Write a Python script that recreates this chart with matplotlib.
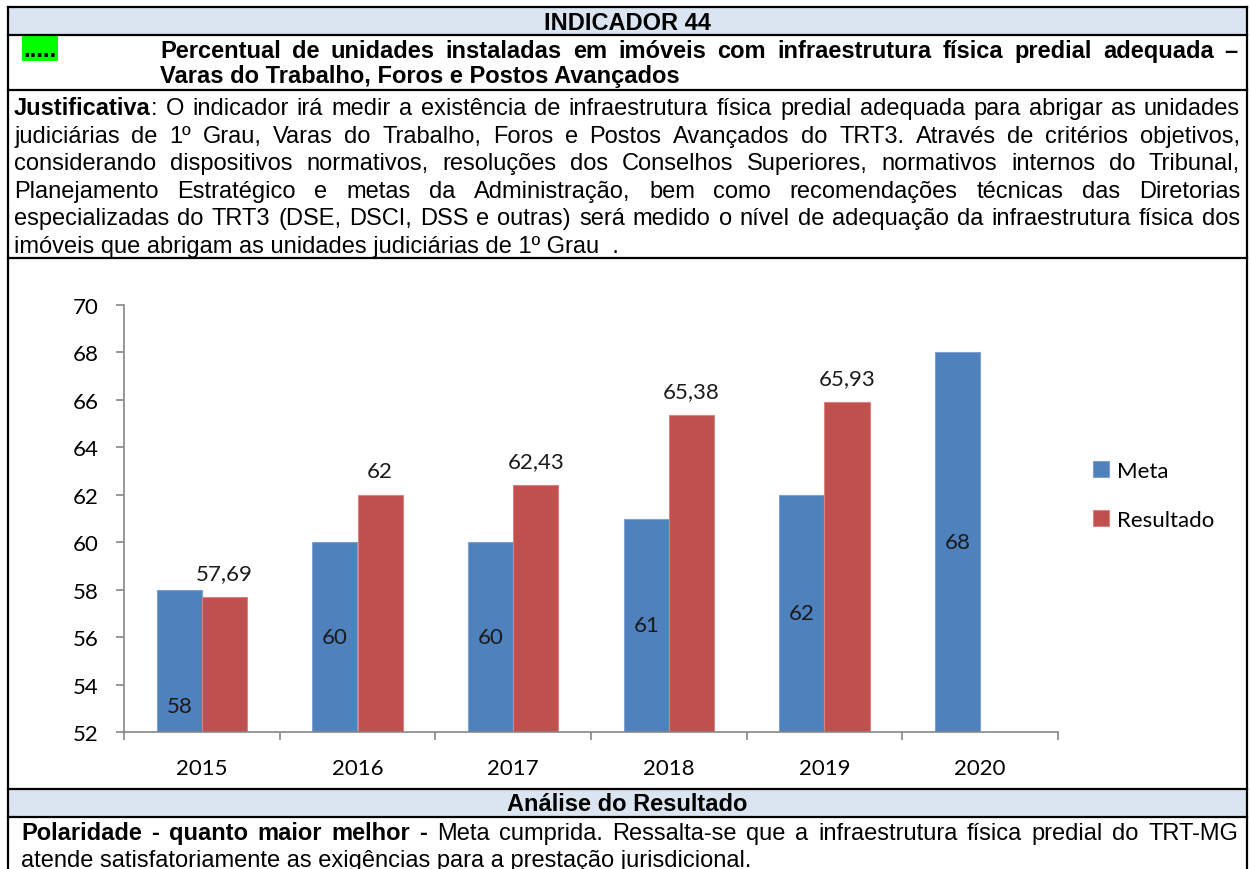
import matplotlib
matplotlib.use("Agg")
import matplotlib.pyplot as plt
from matplotlib.font_manager import FontProperties
from matplotlib.patches import Rectangle
from matplotlib.lines import Line2D

# dados do grafico
anos = ["2015", "2016", "2017", "2018", "2019", "2020"]
meta = [58, 60, 60, 61, 62, 68]
resultado = [57.69, 62, 62.43, 65.38, 65.93]
rotulos_resultado = ["57,69", "62", "62,43", "65,38", "65,93"]
y_ticks = list(range(52, 71, 2))

# textos da tabela
titulo = "INDICADOR 44"
marcador = "....."
nome_indicador = [
    "Percentual de unidades instaladas em imóveis com infraestrutura física predial adequada –",
    "Varas do Trabalho, Foros e Postos Avançados",
]
justificativa = [
    [("Justificativa", True), (": O indicador irá medir a existência de infraestrutura física predial adequada para abrigar as unidades", False)],
    [("judiciárias de 1º Grau, Varas do Trabalho, Foros e Postos Avançados do TRT3. Através de critérios objetivos,", False)],
    [("considerando dispositivos normativos, resoluções dos Conselhos Superiores, normativos internos do Tribunal,", False)],
    [("Planejamento Estratégico e metas da Administração, bem como recomendações técnicas das Diretorias", False)],
    [("especializadas do TRT3 (DSE, DSCI, DSS e outras) será medido o nível de adequação da infraestrutura física dos", False)],
    [("imóveis que abrigam as unidades judiciárias de 1º Grau  .", False)],
]
analise_titulo = "Análise do Resultado"
analise = [
    [("Polaridade - quanto maior melhor -", True), (" Meta cumprida. Ressalta-se que a infraestrutura física predial do TRT-MG", False)],
    [("atende satisfatoriamente as exigências para a prestação jurisdicional.", False)],
]

W, H = 1251, 870
fig = plt.figure(figsize=(W / 100, H / 100), dpi=100)
renderer = fig.canvas.get_renderer()

FS = 17
reg = FontProperties(family="Liberation Sans", size=FS)
bold = FontProperties(family="Liberation Sans", size=FS, weight="bold")
azul_claro = "#DBE5F1"


def fx(px):
    return px / W


def fy(py):
    return 1 - py / H


def largura(s, prop):
    w_bar = renderer.get_text_width_height_descent("|", prop, ismath=False)[0]
    w = renderer.get_text_width_height_descent(s + "|", prop, ismath=False)[0]
    return w - w_bar


def linha_texto(runs, x0, x1, base, justify=False):
    if not justify:
        x = x0
        for s, b in runs:
            p = bold if b else reg
            fig.text(fx(x), fy(base), s, fontproperties=p, va="baseline", ha="left")
            x += largura(s, p)
        return
    words = []
    novo = True
    for s, b in runs:
        partes = s.split(" ")
        for k, pedaco in enumerate(partes):
            if k > 0:
                novo = True
            if pedaco == "":
                continue
            if novo:
                words.append([])
                novo = False
            words[-1].append((pedaco, b))
    larg = [sum(largura(s, bold if b else reg) for s, b in w) for w in words]
    gap = (x1 - x0 - sum(larg)) / (len(words) - 1)
    x = x0
    for w, lw in zip(words, larg):
        xx = x
        for s, b in w:
            p = bold if b else reg
            fig.text(fx(xx), fy(base), s, fontproperties=p, va="baseline", ha="left")
            xx += largura(s, p)
        x += lw + gap


# fundos e bordas da tabela
L, R, T = 8, 1247, 8
for y0, y1 in [(T, 36), (790, 818)]:
    fig.add_artist(Rectangle((fx(L), fy(y1)), fx(R) - fx(L), fy(y0) - fy(y1),
                             transform=fig.transFigure, facecolor=azul_claro,
                             edgecolor="none", zorder=0))
fig.add_artist(Rectangle((fx(22), fy(62)), fx(58) - fx(22), fy(37) - fy(62),
                         transform=fig.transFigure, facecolor="#00FF00",
                         edgecolor="none", zorder=0))
for y in [T, 36, 91, 259, 790, 818]:
    fig.add_artist(Line2D([fx(L), fx(R)], [fy(y), fy(y)], transform=fig.transFigure,
                          color="black", lw=1.6))
for x in [L, R]:
    fig.add_artist(Line2D([fx(x), fx(x)], [fy(T), 0], transform=fig.transFigure,
                          color="black", lw=1.6))

# textos da tabela
fig.text(fx((L + R) / 2), fy(30), titulo, fontproperties=bold, ha="center", va="baseline")
fig.text(fx(23), fy(57), marcador, fontproperties=bold, ha="left", va="baseline")
linha_texto([(nome_indicador[0], True)], 160, 1238, 58, justify=True)
linha_texto([(nome_indicador[1], True)], 160, 1238, 83)
for i, runs in enumerate(justificativa):
    ultima = i == len(justificativa) - 1
    linha_texto(runs, 14, 1240, 115 + 27.6 * i, justify=not ultima)
fig.text(fx((L + R) / 2), fy(811), analise_titulo, fontproperties=bold, ha="center", va="baseline")
linha_texto(analise[0], 21, 1238, 840, justify=True)
linha_texto(analise[1], 21, 1238, 867)

# grafico
cf = FontProperties(family="Lato", size=16)
azul, vermelho = "#4F81BD", "#C0504D"
cinza = "#868686"
ax = fig.add_axes([fx(124), fy(733), (1058 - 124) / W, (733 - 306) / H])
ax.set_facecolor("none")
w = 0.29
xs = list(range(len(anos)))
ax.bar([x - w / 2 for x in xs], meta, w, color=azul, edgecolor="#7FA1CF", lw=0.8, label="Meta")
ax.bar([x + w / 2 for x in xs[:len(resultado)]], resultado, w, color=vermelho,
       edgecolor="#D9827F", lw=0.8, label="Resultado")
ax.set_ylim(52, 70)
ax.set_xlim(-0.5, len(anos) - 0.5)
ax.set_yticks(y_ticks)
ax.set_yticklabels([str(v) for v in y_ticks], fontproperties=cf)
ax.set_xticks(xs)
ax.set_xticklabels(anos, fontproperties=cf)
ax.set_xticks([x - 0.5 for x in range(len(anos) + 1)], minor=True)
ax.tick_params(axis="x", which="major", length=0, pad=19)
ax.tick_params(axis="x", which="minor", length=6, color=cinza, width=1.2)
ax.tick_params(axis="y", length=6, color=cinza, width=1.2, pad=12)
for s in ["top", "right"]:
    ax.spines[s].set_visible(False)
for s in ["left", "bottom"]:
    ax.spines[s].set_color(cinza)
    ax.spines[s].set_linewidth(1.2)

# rotulos: meta no meio da parte visivel da barra (o de 2015 mais abaixo)
frac_meta = [0.18, 0.5, 0.5, 0.5, 0.5, 0.5]
for x, v, f in zip(xs, meta, frac_meta):
    ax.text(x - w / 2, 52 + f * (v - 52), str(v), ha="center", va="center",
            fontproperties=cf, color="#1a1a1a")
for x, v, lab in zip(xs, resultado, rotulos_resultado):
    ax.annotate(lab, (x + w / 2, v), xytext=(0, 17), textcoords="offset points",
                ha="center", va="center", fontproperties=cf, color="#1a1a1a")

fig.legend(loc="upper left", bbox_to_anchor=(fx(1093), fy(462)), frameon=False,
           prop=cf, handlelength=0.7, handleheight=0.7, handletextpad=0.4,
           labelspacing=1.3, borderpad=0, borderaxespad=0)

fig.savefig("out.png", dpi=100)
